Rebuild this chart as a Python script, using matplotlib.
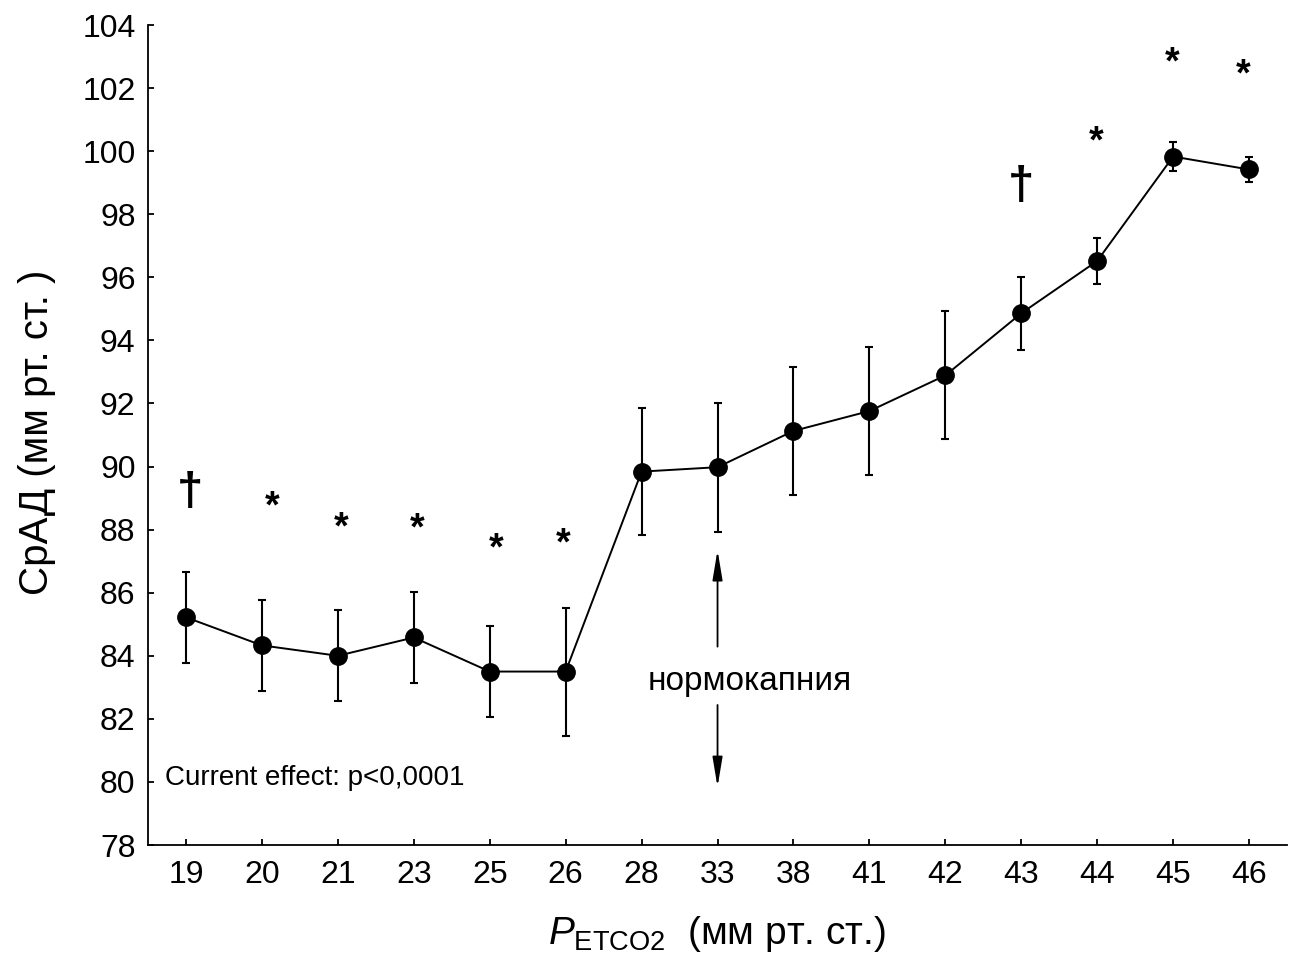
import matplotlib
matplotlib.use("Agg")
import matplotlib.pyplot as plt
import numpy as np

plt.rcParams['font.family'] = ['Liberation Sans', 'DejaVu Sans']
plt.rcParams['mathtext.fontset'] = 'custom'
plt.rcParams['mathtext.rm'] = 'Liberation Sans'
plt.rcParams['mathtext.it'] = 'Liberation Sans:italic'

# P_ETCO2 categories and mean arterial pressure (mean +/- error)
categories = ['19', '20', '21', '23', '25', '26', '28', '33', '38', '41', '42', '43', '44', '45', '46']
means = [85.22, 84.33, 84.00, 84.58, 83.50, 83.50, 89.84, 89.98, 91.13, 91.76, 92.89, 94.86, 96.52, 99.83, 99.42]
errors = [1.44, 1.44, 1.44, 1.44, 1.43, 2.03, 2.02, 2.05, 2.03, 2.03, 2.03, 1.16, 0.72, 0.45, 0.41]

# significance marks: category index, symbol, height
mark_idx = [0, 1, 2, 3, 4, 5, 11, 12, 13, 14]
mark_sym = ['†', '*', '*', '*', '*', '*', '†', '*', '*', '*']
mark_y = [89.16, 88.89, 88.25, 88.22, 87.58, 87.73, 98.86, 100.48, 102.98, 102.60]
mark_dx = [0.05, 0.14, 0.04, 0.04, 0.08, -0.03, 0.0, -0.02, -0.01, -0.08]

x = np.arange(len(categories))

fig = plt.figure(figsize=(12.96, 9.56), dpi=100)
ax = fig.add_axes([0.1142, 0.1161, 0.8789, 0.8577])

ax.errorbar(x, means, yerr=errors, fmt='o-', color='black', ecolor='black',
            markersize=12.5, linewidth=1.4, elinewidth=1.5, capsize=2.6, capthick=1.5)

for i, s, yy, dx in zip(mark_idx, mark_sym, mark_y, mark_dx):
    if s == '†':
        ax.text(i + dx, yy, s, ha='center', va='center', fontsize=34, fontweight='bold')
    else:
        ax.text(i + dx, yy - 0.2, s, ha='center', va='center', fontsize=27, fontweight='bold')

# normocapnia marker
arrow = dict(arrowstyle='-|>,head_length=0.9,head_width=0.15', color='black', lw=1.3,
             mutation_scale=20, shrinkA=0, shrinkB=0)
ax.annotate('', xy=(7, 87.35), xytext=(7, 84.29), arrowprops=arrow)
ax.annotate('', xy=(7, 79.84), xytext=(7, 82.44), arrowprops=arrow)
ax.text(7.43, 82.92, 'нормокапния', ha='center', va='baseline', fontsize=24)

ax.text(0.015, 0.082, 'Current effect: p<0,0001', transform=ax.transAxes,
        ha='left', va='center', fontsize=20)

ax.set_xlim(-0.5, 14.5)
ax.set_ylim(78, 104)
ax.set_yticks(np.arange(78, 105, 2))
ax.set_xticks(x)
ax.set_xticklabels(categories)

for side in ['top', 'right']:
    ax.spines[side].set_visible(False)
for side in ['left', 'bottom']:
    ax.spines[side].set_linewidth(1.3)

ax.tick_params(axis='both', direction='in', length=4, width=1.3, labelsize=23)
ax.tick_params(axis='y', pad=9)
ax.tick_params(axis='x', pad=11)

ax.set_ylabel('СрАД (мм рт. ст. )', fontsize=29)
ax.yaxis.set_label_coords(-0.081, 0.503)
ax.set_xlabel(r'$P_{\mathrm{ETCO2}}$  (мм рт. ст.)', fontsize=28, labelpad=17)

fig.savefig('out.png', dpi=100)
